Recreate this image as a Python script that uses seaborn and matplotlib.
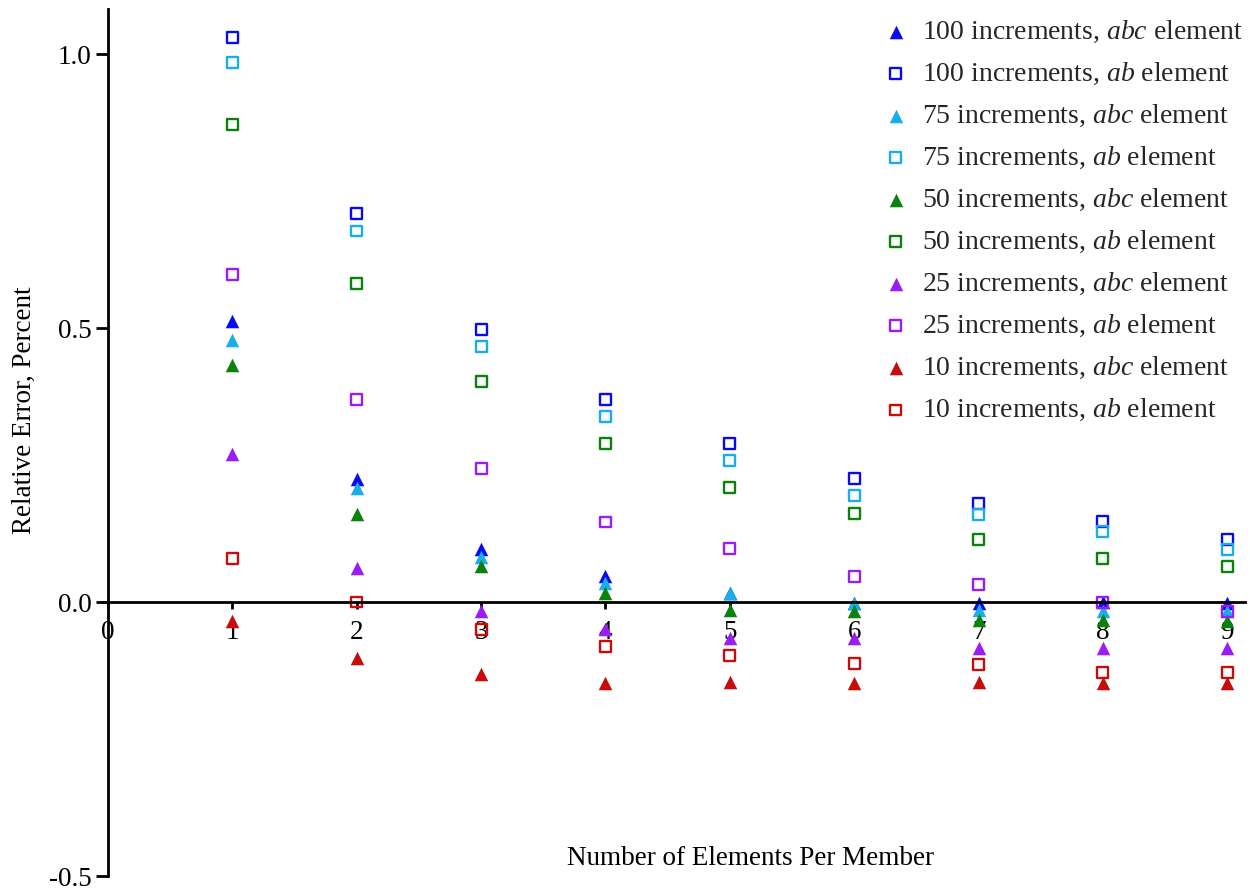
import matplotlib
matplotlib.use("Agg")
import matplotlib.pyplot as plt
import seaborn as sns
import pandas as pd

# Number of elements per member
elements = [1, 2, 3, 4, 5, 6, 7, 8, 9]

# Relative error (percent), abc elements
abc_100 = [0.512, 0.225, 0.096, 0.047, 0.016, -0.002, -0.001, 0.000, -0.002]
abc_75 = [0.479, 0.208, 0.083, 0.035, 0.016, -0.002, -0.014, -0.017, -0.017]
abc_50 = [0.433, 0.161, 0.065, 0.016, -0.015, -0.017, -0.032, -0.033, -0.035]
abc_25 = [0.270, 0.063, -0.016, -0.049, -0.066, -0.066, -0.084, -0.084, -0.084]
abc_10 = [-0.035, -0.102, -0.131, -0.147, -0.146, -0.147, -0.146, -0.147, -0.147]

# Relative error (percent), ab elements
ab_100 = [1.031, 0.709, 0.498, 0.370, 0.289, 0.226, 0.179, 0.147, 0.114]
ab_75 = [0.984, 0.677, 0.466, 0.338, 0.258, 0.194, 0.159, 0.129, 0.096]
ab_50 = [0.871, 0.581, 0.402, 0.289, 0.209, 0.161, 0.114, 0.080, 0.065]
ab_25 = [0.597, 0.369, 0.243, 0.146, 0.097, 0.047, 0.032, -0.001, -0.017]
ab_10 = [0.079, 0.000, -0.050, -0.081, -0.097, -0.113, -0.114, -0.128, -0.128]

increments = [100, 75, 50, 25, 10]
abc_series = [abc_100, abc_75, abc_50, abc_25, abc_10]
ab_series = [ab_100, ab_75, ab_50, ab_25, ab_10]
colors = ["#0a0aee", "#18aeea", "#0c820c", "#9b1cf5", "#c80c0c"]

x_ticks = [0, 1, 2, 3, 4, 5, 6, 7, 8, 9]
y_ticks = [-0.5, 0.0, 0.5, 1.0]
y_tick_labels = ["-0.5", "0.0", "0.5", "1.0"]

sns.set_style("ticks")
plt.rcParams["font.family"] = ["Liberation Serif", "DejaVu Serif"]
plt.rcParams["mathtext.fontset"] = "custom"
plt.rcParams["mathtext.rm"] = "Liberation Serif"
plt.rcParams["mathtext.it"] = "Liberation Serif:italic"

FS = 19.5

fig = plt.figure(figsize=(12.5, 8.9), dpi=100)
ax = fig.add_axes([0.0814, 0.0157, 0.9144, 0.9747])

rows = []
for inc, abc, ab in zip(increments, abc_series, ab_series):
    for kind, vals in (("abc", abc), ("ab", ab)):
        for x, v in zip(elements, vals):
            rows.append({"elements": x, "error": v, "increments": inc, "kind": kind})
df = pd.DataFrame(rows)

for inc, col in zip(increments, colors):
    sub = df[df["increments"] == inc]
    tri = sub[sub["kind"] == "abc"]
    sq = sub[sub["kind"] == "ab"]
    sns.scatterplot(data=tri, x="elements", y="error", ax=ax, marker="^",
                    s=95, color=col, linewidth=0,
                    label=f"{inc} increments, $\\mathit{{abc}}$ element")
    sns.scatterplot(data=sq, x="elements", y="error", ax=ax, marker="s",
                    s=62, color=col, facecolor="none", edgecolor=col,
                    linewidth=1.7,
                    label=f"{inc} increments, $\\mathit{{ab}}$ element")

ax.set_xlim(-0.05, 9.14)
ax.set_ylim(-0.5, 1.083)

for side in ("top", "right"):
    ax.spines[side].set_visible(False)
ax.spines["left"].set_position(("data", 0))
ax.spines["bottom"].set_position(("data", 0))
for side in ("left", "bottom"):
    ax.spines[side].set_linewidth(2.0)
    ax.spines[side].set_color("black")

ax.set_xticks(x_ticks)
ax.set_xticklabels([str(t) for t in x_ticks])
ax.set_yticks(y_ticks)
ax.set_yticklabels(y_tick_labels)
ax.tick_params(axis="x", direction="out", length=5, width=2.0, pad=8,
               labelsize=FS, colors="black")
ax.tick_params(axis="y", direction="out", length=9, width=2.0, pad=3,
               labelsize=FS, colors="black")

ax.set_xlabel("Number of Elements Per Member", fontsize=FS, color="black")
ax.xaxis.set_label_coords(0.568, 0.035)
ax.set_ylabel("Relative Error, Percent", fontsize=FS, color="black")
ax.yaxis.set_label_coords(-0.057, 0.537)

ax.legend(loc="upper left", bbox_to_anchor=(882 / 1250, 1 - 19 / 890),
          bbox_transform=fig.transFigure, frameon=False, fontsize=20,
          borderpad=0, handlelength=1.0, handletextpad=0.45,
          labelspacing=0.57, borderaxespad=0)

fig.savefig("out.png", dpi=100)
